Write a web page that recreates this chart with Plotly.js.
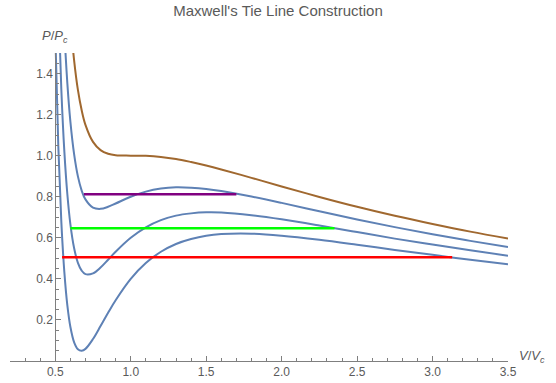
<!DOCTYPE html>
<html>
<head>
<meta charset="utf-8">
<script src="https://cdn.plot.ly/plotly-3.0.1.min.js"></script>
<style>html,body{margin:0;padding:0;background:#fff;}#chart{width:556px;height:383px;}</style>
</head>
<body>
<div id="chart"></div>
<script>
// Reduced volume samples (V/Vc)
var volume = [0.48, 0.5, 0.52, 0.54, 0.56, 0.58, 0.6, 0.625, 0.65, 0.675, 0.7, 0.75, 0.8, 0.85, 0.9, 1.0, 1.1, 1.2, 1.3, 1.4, 1.5, 1.6, 1.8, 2.0, 2.25, 2.5, 2.75, 3.0, 3.25, 3.5];
// Reduced pressure (P/Pc) read along each isotherm
var pT100 = [5.16, 4.0, 3.19, 2.615, 2.198, 1.893, 1.667, 1.463, 1.320, 1.221, 1.150, 1.067, 1.027, 1.009, 1.002, 1.000, 0.999, 0.994, 0.984, 0.969, 0.952, 0.933, 0.892, 0.850, 0.799, 0.751, 0.707, 0.667, 0.630, 0.597];
var pT095 = [4.25, 3.2, 2.477, 1.970, 1.610, 1.352, 1.167, 1.006, 0.899, 0.830, 0.787, 0.747, 0.741, 0.751, 0.767, 0.800, 0.825, 0.840, 0.846, 0.844, 0.838, 0.828, 0.801, 0.770, 0.729, 0.689, 0.652, 0.617, 0.585, 0.555];
var pT090 = [3.34, 2.4, 1.762, 1.325, 1.022, 0.812, 0.667, 0.549, 0.478, 0.440, 0.423, 0.427, 0.455, 0.493, 0.532, 0.600, 0.651, 0.686, 0.708, 0.719, 0.724, 0.723, 0.710, 0.690, 0.660, 0.628, 0.596, 0.567, 0.539, 0.513];
var pT085 = [2.43, 1.6, 1.048, 0.680, 0.434, 0.271, 0.167, 0.091, 0.057, 0.050, 0.059, 0.107, 0.170, 0.235, 0.296, 0.400, 0.477, 0.532, 0.570, 0.594, 0.610, 0.618, 0.620, 0.610, 0.590, 0.566, 0.541, 0.517, 0.493, 0.471];
// Maxwell tie lines
var tiePressure = [0.812, 0.647, 0.505];
var tieVLiquid = [0.69, 0.60, 0.545];
var tieVGas = [1.70, 2.35, 3.13];
var tieColors = ['#800080', '#00ff00', '#ff0000'];
// Tick labels
var xTickVals = [0.5, 1.0, 1.5, 2.0, 2.5, 3.0, 3.5];
var xTickText = ['0.5', '1.0', '1.5', '2.0', '2.5', '3.0', '3.5'];
var yTickVals = [0.2, 0.4, 0.6, 0.8, 1.0, 1.2, 1.4];
var yTickText = ['0.2', '0.4', '0.6', '0.8', '1.0', '1.2', '1.4'];

var blue = '#5e81b5';
var brown = '#a0682f';
var traces = [];
[pT095, pT090, pT085].forEach(function (p) {
  traces.push({x: volume, y: p, mode: 'lines', line: {color: blue, width: 2, shape: 'spline', smoothing: 1}, hoverinfo: 'skip'});
});
traces.push({x: volume, y: pT100, mode: 'lines', line: {color: brown, width: 2, shape: 'spline', smoothing: 1}, hoverinfo: 'skip'});
for (var i = 0; i < tiePressure.length; i++) {
  traces.push({x: [tieVLiquid[i], tieVGas[i]], y: [tiePressure[i], tiePressure[i]], mode: 'lines', line: {color: tieColors[i], width: 2.5}, hoverinfo: 'skip'});
}

var axisColor = '#7f7f7f';
var fontFam = 'Liberation Sans, Arial, sans-serif';
var textColor = '#5a5a5a';
var layout = {
  width: 556, height: 383,
  margin: {l: 10, r: 48, t: 53, b: 22},
  paper_bgcolor: '#fff', plot_bgcolor: '#fff',
  showlegend: false,
  font: {family: fontFam, color: textColor, size: 12},
  title: {text: "Maxwell's Tie Line Construction", font: {family: fontFam, size: 15, color: textColor}, x: 0.5, xref: 'container', xanchor: 'center', y: 0.985, yref: 'container', yanchor: 'top'},
  xaxis: {
    range: [0.2, 3.5], showgrid: false, zeroline: false,
    showline: true, linecolor: axisColor, linewidth: 1,
    tickmode: 'array', tickvals: xTickVals, ticktext: xTickText,
    ticks: 'inside', ticklen: 5, tickcolor: axisColor,
    minor: {tickmode: 'linear', tick0: 0.2, dtick: 0.1, ticks: 'inside', ticklen: 3, tickcolor: axisColor},
    tickfont: {family: fontFam, size: 12, color: textColor}
  },
  yaxis: {
    range: [0, 1.5], showgrid: false, zeroline: false,
    anchor: 'free', position: 0.0909,
    showline: true, linecolor: axisColor, linewidth: 1,
    tickmode: 'array', tickvals: yTickVals, ticktext: yTickText,
    ticks: 'inside', ticklen: 5, tickcolor: axisColor,
    minor: {tickmode: 'linear', tick0: 0, dtick: 0.05, ticks: 'inside', ticklen: 3, tickcolor: axisColor},
    tickfont: {family: fontFam, size: 12, color: textColor}
  },
  annotations: [
    {x: 0.5, y: 1.5, xref: 'x', yref: 'y', text: '<i>P</i>/<i>P</i><sub><i>c</i></sub>', showarrow: false, xanchor: 'center', yanchor: 'bottom', yshift: 6, xshift: 0, font: {family: fontFam, size: 13, color: textColor}},
    {x: 3.5, y: 0, xref: 'x', yref: 'y', text: '<i>V</i>/<i>V</i><sub><i>c</i></sub>', showarrow: false, xanchor: 'left', yanchor: 'middle', xshift: 9, yshift: 5, font: {family: fontFam, size: 13, color: textColor}}
  ]
};
Plotly.newPlot('chart', traces, layout, {displayModeBar: false, staticPlot: true});
</script>
</body>
</html>
